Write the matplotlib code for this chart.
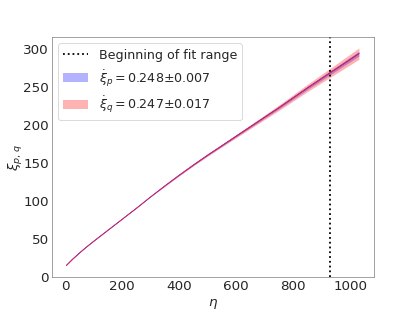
import matplotlib
matplotlib.use("Agg")
import matplotlib.pyplot as plt

# conformal time and measured string separations
eta = [5, 25, 50, 75, 100, 150, 200, 250, 300, 350, 400, 450, 500, 550,
       600, 650, 700, 750, 800, 850, 900, 950, 1000, 1030]
xi_p = [15, 22.5, 31, 39, 46.5, 61, 75.5, 90, 105, 119.5, 133.5, 147, 160, 172.5,
        185, 197.5, 210, 222.5, 235.5, 248.5, 261, 273.5, 286, 293.5]
xi_q = [15, 22.5, 31, 39, 46.5, 61, 75.5, 90, 105, 119.5, 133.5, 147, 160, 172.5,
        185, 197.5, 210, 222.5, 235.5, 248.5, 261, 273.5, 286, 293.5]
# band half-widths from the fit uncertainty
err_p = [0, 0, 0, 0, 0, 0, 0, 0, 0, 0.2, 0.3, 0.45, 0.6, 0.75,
         0.9, 1.1, 1.3, 1.55, 1.8, 2.1, 2.4, 2.7, 3.0, 3.2]
err_q = [0, 0, 0, 0, 0, 0, 0, 0, 0, 0.5, 0.7, 1.0, 1.3, 1.6,
         2.0, 2.5, 3.0, 3.6, 4.2, 4.8, 5.5, 6.2, 7.0, 7.5]

fit_start = 930
label_p = r"$\dot{\xi}_p=0.248{\pm}0.007$"
label_q = r"$\dot{\xi}_q=0.247{\pm}0.017$"


def main():
    plt.rcParams["font.family"] = "DejaVu Sans"
    plt.rcParams["text.color"] = "#262626"
    plt.rcParams["axes.labelcolor"] = "#262626"
    plt.rcParams["xtick.color"] = "#262626"
    plt.rcParams["ytick.color"] = "#262626"

    fig, ax = plt.subplots(figsize=(6.4, 4.8))

    ax.axvline(fit_start, color="black", linestyle=":", linewidth=2,
               label="Beginning of fit range")
    ax.fill_between(eta, [v - e for v, e in zip(xi_p, err_p)],
                    [v + e for v, e in zip(xi_p, err_p)],
                    color="blue", alpha=0.3, linewidth=0, label=label_p)
    ax.fill_between(eta, [v - e for v, e in zip(xi_q, err_q)],
                    [v + e for v, e in zip(xi_q, err_q)],
                    color="red", alpha=0.3, linewidth=0, label=label_q)
    ax.plot(eta, xi_p, color="blue", linewidth=0.8)
    ax.plot(eta, xi_q, color="#d8285e", linewidth=1.1)

    ax.set_ylim(bottom=0)
    ax.set_xlabel(r"$\eta$", fontsize=15)
    ax.set_ylabel(r"$\xi_{p,\,q}$", fontsize=15, labelpad=-2)
    ax.tick_params(labelsize=15, length=0)
    for s in ax.spines.values():
        s.set_color("gray")

    ax.legend(fontsize=14, loc="upper left", framealpha=0.8)

    fig.savefig("out.png", dpi=415 / 6.4)


if __name__ == "__main__":
    main()
